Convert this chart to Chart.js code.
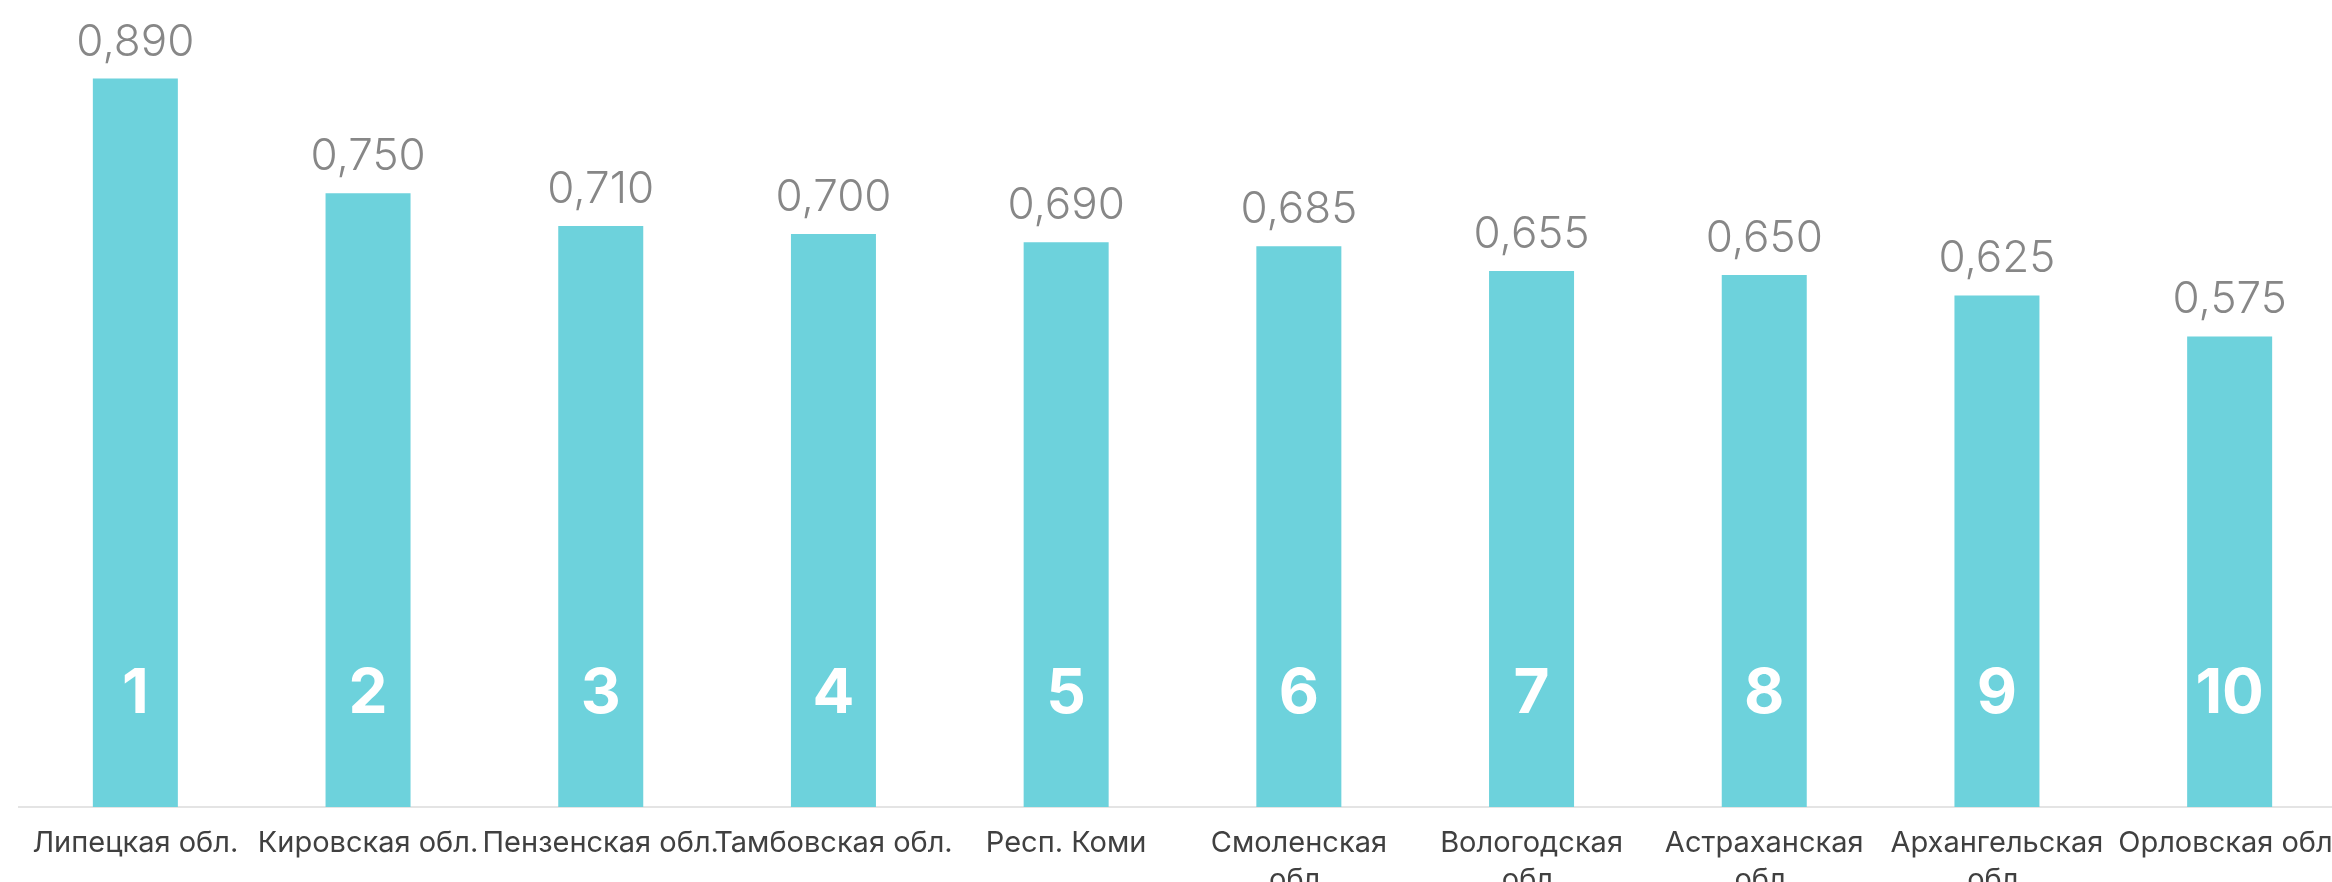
<!DOCTYPE html>
<html>
<head>
<meta charset="utf-8">
<script src="https://cdn.jsdelivr.net/npm/chart.js@4/dist/chart.umd.min.js"></script>
<style>
  html, body { margin: 0; padding: 0; background: #ffffff; overflow: hidden; }
  #c { display: block; }
</style>
</head>
<body>
<canvas id="c" width="2346" height="882" style="width:2346px;height:882px"></canvas>
<script>
const categories = [
  "Липецкая обл.",
  "Кировская обл.",
  "Пензенская обл.",
  "Тамбовская обл.",
  "Респ. Коми",
  ["Смоленская", "обл."],
  ["Вологодская", "обл."],
  ["Астраханская", "обл."],
  ["Архангельская", "обл."],
  "Орловская обл."
];
const values = [0.890, 0.750, 0.710, 0.700, 0.690, 0.685, 0.655, 0.650, 0.625, 0.575];
const ranks = ["1", "2", "3", "4", "5", "6", "7", "8", "9", "10"];

const barLabels = {
  id: 'barLabels',
  afterDatasetsDraw(chart) {
    const ctx = chart.ctx;
    const meta = chart.getDatasetMeta(0);
    const yScale = chart.scales.y;
    ctx.save();
    meta.data.forEach((bar, i) => {
      ctx.font = '300 44px Inter, "Open Sans", sans-serif';
      ctx.fillStyle = '#878787';
      ctx.textAlign = 'center';
      ctx.textBaseline = 'alphabetic';
      ctx.fillText(values[i].toFixed(3).replace('.', ','), bar.x, bar.y - 23);
      ctx.font = '700 62px Inter, "Open Sans", sans-serif';
      ctx.fillStyle = '#ffffff';
      ctx.textBaseline = 'middle';
      ctx.fillText(ranks[i], bar.x, yScale.getPixelForValue(0) - 113);
    });
    ctx.restore();
  }
};

new Chart(document.getElementById('c'), {
  type: 'bar',
  data: {
    labels: categories,
    datasets: [{
      data: values,
      backgroundColor: '#6DD2DC',
      borderWidth: 0,
      barPercentage: 0.3653,
      categoryPercentage: 1.0
    }]
  },
  options: {
    responsive: false,
    maintainAspectRatio: false,
    animation: false,
    devicePixelRatio: 1,
    layout: { padding: { left: 19, right: 0, top: 0, bottom: 0 } },
    plugins: {
      legend: { display: false },
      tooltip: { enabled: false }
    },
    scales: {
      x: {
        offset: true,
        grid: { display: false, drawTicks: true, tickLength: 17 },
        border: { display: true, color: '#e4e4e4', width: 2 },
        ticks: {
          autoSkip: false,
          maxRotation: 0,
          minRotation: 0,
          padding: 0,
          color: '#404040',
          font: { family: 'Inter, "Open Sans", sans-serif', size: 29, lineHeight: 1.3 }
        },
        afterFit(scale) { scale.height = 75; }
      },
      y: {
        display: false,
        min: 0,
        max: 0.986
      }
    }
  },
  plugins: [barLabels]
});
</script>
</body>
</html>
